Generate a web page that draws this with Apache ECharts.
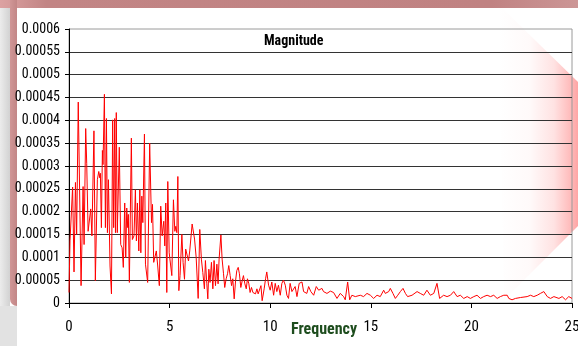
<!DOCTYPE html>
<html>
<head>
<meta charset="utf-8">
<style>
  html, body { margin: 0; padding: 0; background: #ffffff; }
  #chart { width: 578px; height: 346px; }
</style>
<script src="https://cdn.jsdelivr.net/npm/echarts@6/dist/echarts.min.js"></script>
</head>
<body>
<div id="chart"></div>
<script>
// ---- data ----
const chartTitle = 'Magnitude';
const xAxisName = 'Frequency';
const xTickLabels = ['0', '5', '10', '15', '20', '25'];
const yTickLabels = ['0', '0.00005', '0.0001', '0.00015', '0.0002', '0.00025', '0.0003',
                     '0.00035', '0.0004', '0.00045', '0.0005', '0.00055', '0.0006'];

// frequency of each read point
const freq = [
  0, 0.05, 0.18, 0.25, 0.32, 0.38, 0.46, 0.60, 0.70, 0.75,
  0.83, 0.88, 0.95, 1.01, 1.08, 1.14, 1.24, 1.31, 1.41, 1.48,
  1.53, 1.56, 1.61, 1.66, 1.69, 1.76, 1.81, 1.86, 1.91, 1.96,
  2.04, 2.11, 2.17, 2.22, 2.27, 2.31, 2.35, 2.40, 2.50, 2.57,
  2.64, 2.70, 2.77, 2.82, 2.87, 2.92, 2.95, 3.00, 3.10, 3.15,
  3.23, 3.30, 3.35, 3.40, 3.47, 3.52, 3.57, 3.62, 3.67, 3.75,
  3.80, 3.86, 3.91, 4.01, 4.10, 4.15, 4.21, 4.28, 4.34, 4.41,
  4.49, 4.56, 4.63, 4.71, 4.76, 4.81, 4.86, 4.91, 4.98, 5.04,
  5.11, 5.19, 5.26, 5.31, 5.36, 5.41, 5.46, 5.52, 5.61, 5.67,
  5.74, 5.80, 5.87, 5.94, 6.00, 6.12, 6.24, 6.32, 6.42, 6.50,
  6.58, 6.65, 6.73, 6.78, 6.85, 6.90, 6.95, 7.01, 7.08, 7.15,
  7.21, 7.28, 7.35, 7.41, 7.46, 7.55, 7.61, 7.68, 7.74, 7.81,
  7.88, 7.94, 8.01, 8.08, 8.14, 8.21, 8.28, 8.34, 8.41, 8.47,
  8.54, 8.61, 8.67, 8.74, 8.81, 8.87, 8.94, 9.00, 9.07, 9.14,
  9.20, 9.27, 9.34, 9.40, 9.47, 9.54, 9.60, 9.70, 9.77, 9.83,
  9.92, 10.00, 10.08, 10.17, 10.25, 10.33, 10.41, 10.50, 10.58, 10.66,
  10.75, 10.83, 10.91, 10.99, 11.08, 11.16, 11.24, 11.33, 11.44, 11.58,
  11.66, 11.74, 11.82, 11.91, 12.02, 12.16, 12.29, 12.41, 12.57, 12.65,
  12.74, 12.82, 12.99, 13.15, 13.32, 13.48, 13.65, 13.73, 13.85, 13.95,
  14.06, 14.23, 14.48, 14.64, 14.81, 14.98, 15.14, 15.31, 15.47, 15.64,
  15.72, 15.89, 15.97, 16.10, 16.22, 16.34, 16.47, 16.60, 16.72, 16.83,
  17.05, 17.30, 17.46, 17.63, 17.79, 17.96, 18.13, 18.29, 18.42, 18.62,
  18.79, 18.96, 19.12, 19.29, 19.45, 19.62, 19.79, 19.95, 20.12, 20.28,
  20.45, 20.61, 20.78, 20.95, 21.11, 21.28, 21.44, 21.61, 21.78, 21.86,
  22.02, 22.19, 22.44, 22.77, 22.94, 23.10, 23.27, 23.43, 23.60, 23.77,
  23.93, 24.10, 24.35, 24.51, 24.68, 24.84, 25.00
];

// magnitude at each read point, in units of 1e-5
const magnitudeE5 = [
  2.3, 13.6, 25.4, 6.8, 26.4, 15.0, 44.0, 3.8, 25.5, 12.8,
  38.2, 30.6, 15.7, 16.1, 20.6, 14.7, 37.7, 4.9, 27.0, 28.8,
  27.4, 28.4, 16.5, 33.4, 30.3, 45.7, 16.5, 40.4, 15.4, 27.0,
  8.1, 2.0, 40.1, 16.5, 40.4, 15.4, 41.7, 15.4, 34.1, 12.8,
  12.1, 7.8, 21.9, 9.9, 20.8, 16.5, 19.4, 4.5, 36.1, 13.9,
  14.7, 24.8, 13.6, 21.9, 11.4, 24.8, 11.0, 23.4, 17.6, 37.0,
  8.5, 8.1, 4.5, 35.0, 17.6, 21.6, 8.9, 9.2, 11.4, 8.1,
  3.8, 21.2, 14.7, 17.9, 12.5, 21.9, 2.3, 26.6, 11.0, 11.0,
  6.0, 22.6, 15.7, 16.8, 15.4, 27.7, 2.7, 6.0, 15.0, 8.9,
  5.2, 11.8, 11.8, 9.2, 11.4, 17.3, 14.0, 10.0, 1.0, 16.1,
  9.6, 6.7, 3.1, 9.3, 4.2, 0.9, 7.4, 4.5, 8.9, 3.1,
  9.3, 3.8, 8.5, 4.2, 9.6, 14.9, 9.6, 6.4, 3.4, 5.3,
  6.4, 8.2, 6.0, 3.8, 5.3, 0.9, 4.9, 7.1, 7.8, 6.4,
  3.4, 4.9, 6.0, 4.2, 3.1, 5.3, 4.2, 2.3, 3.4, 2.3,
  2.7, 2.0, 3.1, 2.0, 1.6, 3.8, 0.5, 3.1, 5.3, 6.8,
  3.9, 2.8, 4.6, 1.7, 4.3, 2.5, 3.9, 1.7, 4.3, 5.0,
  3.9, 1.7, 1.0, 4.3, 2.5, 2.1, 3.6, 1.4, 4.3, 4.6,
  2.5, 2.8, 2.1, 3.6, 2.5, 1.7, 3.6, 2.8, 3.2, 2.5,
  2.8, 2.1, 2.6, 2.3, 1.0, 2.1, 1.4, 0.7, 4.6, 0.7,
  1.7, 1.4, 1.7, 1.4, 2.1, 1.7, 1.0, 1.7, 1.4, 2.8,
  2.1, 2.5, 3.2, 2.1, 1.0, 1.7, 2.5, 3.2, 2.1, 1.4,
  1.7, 2.5, 2.1, 1.7, 2.8, 1.7, 2.1, 4.3, 1.0, 1.7,
  1.4, 1.7, 2.5, 1.4, 1.7, 1.0, 1.4, 1.0, 1.4, 1.7,
  1.0, 1.4, 1.7, 1.4, 1.7, 1.0, 1.4, 1.7, 1.7, 1.0,
  0.7, 1.0, 1.2, 1.4, 1.7, 1.4, 1.7, 2.1, 2.5, 1.4,
  1.0, 1.4, 1.0, 1.4, 0.7, 1.4, 1.0
];
const MAG_UNIT = 1e-5;

// ---- chart ----
const NARROW = "'Roboto Condensed', 'Open Sans Condensed', sans-serif";
const n = Math.min(freq.length, magnitudeE5.length);
const seriesData = [];
for (let i = 0; i < n; i++) seriesData.push([freq[i], magnitudeE5[i] * MAG_UNIT]);

const chart = echarts.init(document.getElementById('chart'), null, { renderer: 'canvas' });
chart.setOption({
  animation: false,
  backgroundColor: '#ffffff',
  graphic: [
    // decorative frame
    { type: 'rect', z: -10, silent: true, shape: { x: 0, y: 0, width: 578, height: 8 },
      style: { fill: new echarts.graphic.LinearGradient(0, 0, 1, 0, [
        { offset: 0, color: '#dca2a2' }, { offset: 0.08, color: '#c28585' },
        { offset: 0.85, color: '#c08282' }, { offset: 1, color: '#cc9696' }]) } },
    { type: 'rect', z: -10, silent: true, shape: { x: 0, y: 8, width: 10, height: 338 },
      style: { fill: new echarts.graphic.LinearGradient(0, 0, 1, 0, [
        { offset: 0, color: '#ececec' }, { offset: 1, color: '#d2d2d2' }]) } },
    { type: 'rect', z: -9, silent: true, shape: { x: 10, y: 0, width: 7, height: 306, r: [0, 0, 0, 7] },
      style: { fill: new echarts.graphic.LinearGradient(0, 0, 1, 0, [
        { offset: 0, color: '#d09696' }, { offset: 1, color: '#c28686' }]) } },
    { type: 'rect', z: -10, silent: true, shape: { x: 0, y: 306, width: 17, height: 40 },
      style: { fill: '#e2e2e2' } },
    { type: 'polygon', z: -10, silent: true,
      shape: { points: [[498, 4], [578, 82], [578, 226], [504, 300]] },
      style: { fill: new echarts.graphic.LinearGradient(498, 0, 578, 0, [
        { offset: 0, color: 'rgba(255,160,160,0)' }, { offset: 0.4, color: 'rgba(255,160,160,0.06)' },
        { offset: 0.7, color: 'rgba(255,160,160,0.3)' }, { offset: 0.9, color: 'rgba(255,160,160,0.7)' },
        { offset: 1, color: 'rgba(255,160,160,0.95)' }], true) } }
  ],
  title: {
    text: chartTitle,
    left: 264,
    top: 34,
    padding: 0,
    textStyle: { fontFamily: NARROW, fontSize: 14, fontWeight: 'bold', color: '#000' }
  },
  grid: {
    left: 69, right: 6, top: 29, bottom: 43,
    containLabel: false, outerBoundsMode: 'none',
    show: true, borderColor: '#9a9a9a', borderWidth: 1, backgroundColor: 'transparent'
  },
  xAxis: {
    type: 'value', min: 0, max: 25, interval: 5,
    name: xAxisName, nameLocation: 'middle', nameGap: 19, nameMoveOverlap: false,
    nameTextStyle: { fontFamily: NARROW, fontSize: 16, fontWeight: 'bold', color: '#1e4d1e',
      verticalAlign: 'top', padding: [0, 0, 0, 7] },
    axisLine: { show: true, lineStyle: { color: '#000', width: 1 } },
    axisTick: { show: true, length: 5, lineStyle: { color: '#000' } },
    axisLabel: { margin: 17, fontSize: 15, fontFamily: NARROW, color: '#000',
      formatter: (v) => xTickLabels[Math.round(v / 5)] },
    splitLine: { show: false }
  },
  yAxis: {
    type: 'value', min: 0, max: 0.0006, interval: 0.00005,
    axisLine: { show: true, lineStyle: { color: '#000', width: 1 } },
    axisTick: { show: true, length: 4, lineStyle: { color: '#000' } },
    axisLabel: { margin: 9, fontSize: 14, fontFamily: NARROW, color: '#000',
      formatter: (v) => yTickLabels[Math.round(v / 0.00005)] },
    splitLine: { show: true, showMaxLine: false, lineStyle: { color: '#333333', width: 1 } }
  },
  series: [{
    type: 'line',
    data: seriesData,
    showSymbol: false,
    symbol: 'none',
    lineStyle: { color: '#ff0000', width: 1 },
    itemStyle: { color: '#ff0000' },
    z: 3
  }]
});
</script>
</body>
</html>
